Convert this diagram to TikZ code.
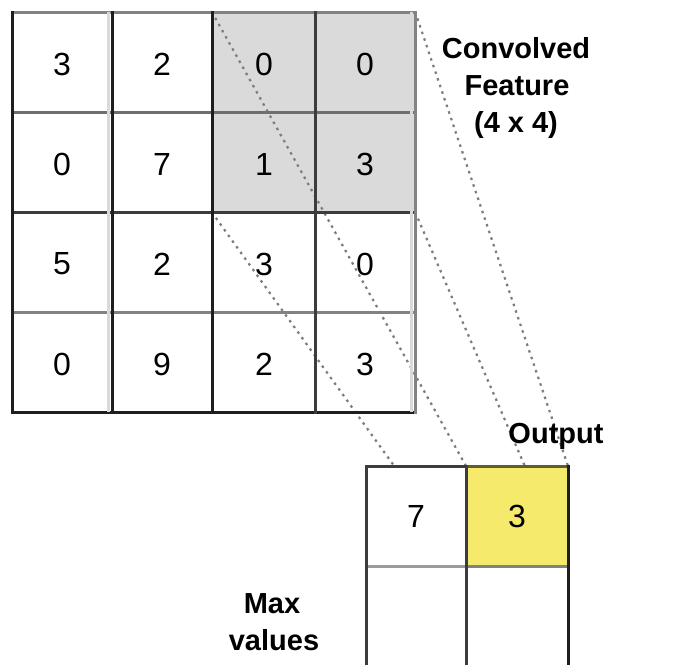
\documentclass[tikz,border=0pt]{standalone}
\usepackage{fontspec}
\setmainfont{Liberation Sans}
\definecolor{poolgrey}{RGB}{218,218,218}
\definecolor{poolyellow}{RGB}{246,234,108}
\definecolor{rulegrey}{RGB}{130,130,130}
\definecolor{ruledark}{RGB}{60,60,60}
\definecolor{ruleblack}{RGB}{30,30,30}
\definecolor{guidegrey}{RGB}{125,125,125}
\begin{document}
\begin{tikzpicture}[x=1pt,y=-1pt,
  cellbox/.style={minimum width=100pt, minimum height=100pt, inner sep=0pt,
    font=\fontsize{32}{32}\selectfont},
  caption/.style={font=\bfseries\fontsize{29}{29}\selectfont, anchor=base, inner sep=0pt},
  guide/.style={draw=guidegrey, line width=2.2pt, dash pattern=on 2.5pt off 4.5pt},
  rule/.style={line width=3pt, line cap=rect}]
\useasboundingbox (0,0) rectangle (677,664);

% shaded 2x2 pooling window
\node[fill=poolgrey, minimum width=203pt, minimum height=200pt, inner sep=0pt]
  (window) at (313.5,112) {};

% projection guides from the window to the pooled cell
\draw[guide] (window.north west) -- (466,466) coordinate (g1);
\draw[guide] (window.north east) -- (568,466) coordinate (g2);
\draw[guide] (window.south west) -- (466,566) coordinate (g3);
\draw[guide] (window.south east) -- (568,566) coordinate (g4);

% 4x4 feature map values
\node[cellbox] (c00) at (62,64)  {3};
\node[cellbox] (c01) at (162,64) {2};
\node[cellbox] (c02) at (264,64) {0};
\node[cellbox] (c03) at (365,64) {0};
\node[cellbox] (c10) at (62,164)  {0};
\node[cellbox] (c11) at (162,164) {7};
\node[cellbox] (c12) at (264,164) {1};
\node[cellbox] (c13) at (365,164) {3};
\node[cellbox] (c20) at (62,264)  {5};
\node[cellbox] (c21) at (162,264) {2};
\node[cellbox] (c22) at (264,264) {3};
\node[cellbox] (c23) at (365,264) {0};
\node[cellbox] (c30) at (62,364)  {0};
\node[cellbox] (c31) at (162,364) {9};
\node[cellbox] (c32) at (264,364) {2};
\node[cellbox] (c33) at (365,364) {3};

% feature map grid rules
\draw[rule, rulegrey]  (12,12)  -- (415,12);
\draw[rule, rulegrey!85!black] (12,112) -- (415,112);
\draw[rule, ruledark]  (12,212) -- (415,212);
\draw[rule, rulegrey]  (12,312) -- (415,312);
\draw[rule, ruleblack] (12,412) -- (415,412);
\draw[line width=3pt, black!15] (108.5,12) -- (108.5,412);
\draw[line width=3pt, black!15] (411.5,12) -- (411.5,412);
\draw[rule, ruleblack] (12,12)  -- (12,412);
\draw[rule, ruleblack] (112,12) -- (112,412);
\draw[rule, ruleblack] (212,12) -- (212,412);
\draw[rule, ruledark]  (315,12) -- (315,412);
\draw[rule, rulegrey]  (415,12) -- (415,412);

% pooled output cells
\node[cellbox, fill=white, minimum width=100pt] (o00) at (416,516) {7};
\node[cellbox, fill=poolyellow, minimum width=102pt] (o01) at (517,516) {3};
\node[cellbox, fill=white, minimum width=100pt, minimum height=110pt] (o10) at (416,621) {};
\node[cellbox, fill=white, minimum width=102pt, minimum height=110pt] (o11) at (517,621) {};

% output grid rules
\draw[rule, ruledark] (366,466) -- (466,466);
\draw[rule, poolyellow!40!black] (466,466) -- (568,466);
\draw[rule, rulegrey!80!white] (366,566) -- (466,566);
\draw[rule, rulegrey] (466,566) -- (568,566);
\draw[rule, ruledark]  (366,466) -- (366,680);
\draw[rule, ruledark]  (466,466) -- (466,680);
\draw[rule, ruleblack] (568,466) -- (568,680);

% captions
\node[caption] (conv1) at (516,58)  {Convolved};
\node[caption] (conv2) at (517,95)  {Feature};
\node[caption] (conv3) at (516,132) {(4 x 4)};
\node[caption] (outcap) at (556,443) {Output};
\node[caption] (max1) at (272,613) {Max};
\node[caption] (max2) at (274,650) {values};
\end{tikzpicture}
\end{document}
